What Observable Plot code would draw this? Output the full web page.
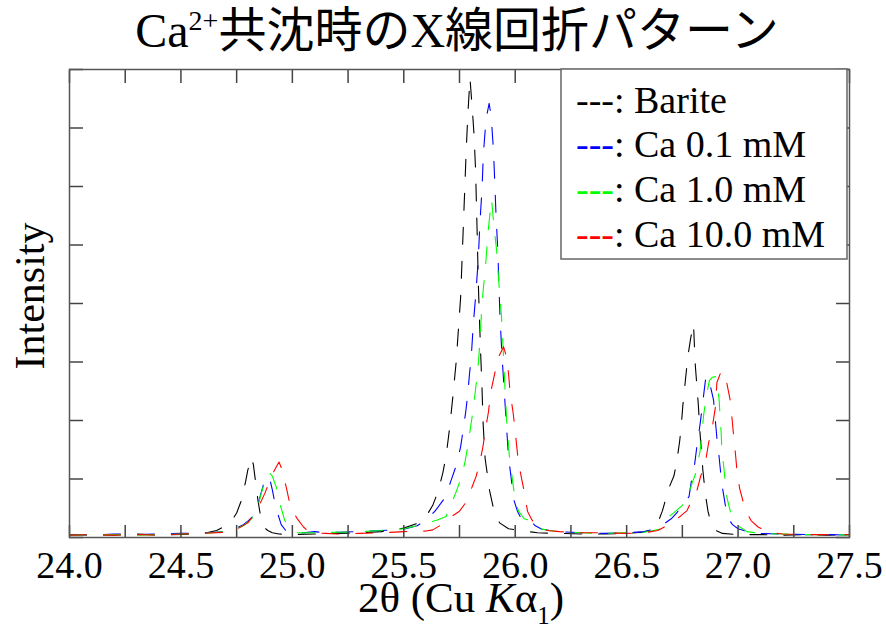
<!DOCTYPE html>
<html><head><meta charset="utf-8">
<script src="https://cdn.jsdelivr.net/npm/d3@7"></script>
<script src="https://cdn.jsdelivr.net/npm/@observablehq/plot@0.6"></script>
<style>
body{margin:0;background:#fff;}
svg{display:block;}
#chart svg text, #chart svg tspan {font-family: "Liberation Serif", "DejaVu Serif", serif;}
#chart svg tspan.cjk {font-family: "Noto Sans CJK JP", sans-serif;}
</style>
</head><body><div id="chart"></div>
<script>
// ---- data (2θ in degrees, intensity in arbitrary tick units) ----
const bariteX = [24.00,24.10,24.20,24.30,24.40,24.50,24.60,24.66,24.70,24.73,24.75,24.77,24.79,24.80,24.816,24.825,24.835,24.845,24.855,24.87,24.89,24.91,24.94,25.00,25.10,25.20,25.30,25.40,25.50,25.56,25.60,25.63,25.655,25.675,25.69,25.705,25.72,25.735,25.745,25.755,25.762,25.768,25.774,25.78,25.787,25.797,25.806,25.815,25.822,25.826,25.830,25.834,25.839,25.845,25.851,25.856,25.865,25.885,25.905,25.93,25.97,26.04,26.10,26.20,26.30,26.40,26.50,26.57,26.62,26.645,26.66,26.675,26.69,26.712,26.725,26.738,26.745,26.752,26.760,26.768,26.775,26.787,26.800,26.804,26.808,26.815,26.822,26.828,26.836,26.842,26.853,26.865,26.88,26.90,26.93,27.00,27.10,27.20,27.30,27.40,27.50];
const bariteY = [0.04,0.05,0.04,0.06,0.04,0.05,0.07,0.12,0.20,0.30,0.42,0.62,0.95,1.15,1.37,1.25,0.95,0.65,0.42,0.18,0.12,0.08,0.06,0.05,0.06,0.07,0.08,0.10,0.16,0.24,0.36,0.55,0.80,1.10,1.40,1.85,2.40,3.00,3.55,4.10,4.80,5.40,6.00,6.60,7.20,7.85,7.40,6.90,6.30,5.70,5.10,4.40,3.80,3.15,2.55,1.95,1.35,0.80,0.45,0.25,0.15,0.11,0.08,0.07,0.06,0.06,0.07,0.09,0.14,0.30,0.45,0.65,0.85,1.05,1.30,1.65,1.90,2.25,2.55,2.85,3.10,3.40,3.65,3.30,2.95,2.60,2.25,1.85,1.45,1.15,0.75,0.45,0.22,0.12,0.07,0.05,0.05,0.04,0.05,0.04,0.05];

const ca01X = [24.00,24.10,24.20,24.30,24.40,24.50,24.60,24.70,24.75,24.78,24.80,24.82,24.84,24.855,24.87,24.885,24.90,24.91,24.92,24.935,24.95,24.97,25.00,25.05,25.10,25.15,25.20,25.30,25.40,25.50,25.56,25.60,25.64,25.685,25.71,25.737,25.755,25.767,25.778,25.787,25.795,25.803,25.812,25.824,25.834,25.842,25.851,25.857,25.869,25.883,25.892,25.902,25.908,25.914,25.922,25.927,25.932,25.94,25.95,25.96,25.97,25.985,25.995,26.01,26.03,26.05,26.07,26.09,26.12,26.20,26.30,26.40,26.50,26.58,26.63,26.67,26.70,26.725,26.75,26.78,26.79,26.805,26.815,26.83,26.838,26.846,26.856,26.866,26.875,26.89,26.898,26.905,26.913,26.92,26.93,26.943,26.96,26.975,27.00,27.04,27.10,27.20,27.30,27.40,27.50];
const ca01Y = [0.05,0.04,0.06,0.05,0.06,0.07,0.08,0.10,0.16,0.22,0.28,0.35,0.48,0.70,0.90,1.05,0.98,0.82,0.62,0.40,0.22,0.12,0.08,0.08,0.10,0.08,0.09,0.10,0.12,0.14,0.20,0.30,0.45,0.68,0.95,1.25,1.55,1.85,2.15,2.45,2.80,3.10,3.65,4.20,4.75,5.40,5.95,6.55,7.15,7.42,7.20,6.65,6.10,5.50,4.90,4.30,3.75,3.15,2.55,1.95,1.38,0.92,0.63,0.45,0.30,0.30,0.28,0.20,0.14,0.10,0.08,0.07,0.08,0.10,0.15,0.24,0.32,0.42,0.55,0.70,0.95,1.25,1.55,1.95,2.20,2.45,2.76,2.70,2.60,2.35,2.00,1.70,1.45,1.18,0.85,0.55,0.30,0.22,0.15,0.10,0.07,0.06,0.05,0.05,0.04];

const ca10X = [24.00,24.10,24.20,24.30,24.40,24.50,24.60,24.70,24.75,24.78,24.80,24.82,24.84,24.86,24.88,24.895,24.91,24.928,24.944,24.966,24.99,25.02,25.10,25.20,25.30,25.40,25.50,25.58,25.65,25.69,25.707,25.735,25.76,25.775,25.79,25.80,25.812,25.821,25.830,25.836,25.842,25.850,25.858,25.865,25.872,25.879,25.887,25.894,25.905,25.917,25.927,25.939,25.947,25.954,25.962,25.974,25.99,26.00,26.015,26.04,26.06,26.08,26.10,26.15,26.20,26.30,26.40,26.50,26.58,26.62,26.645,26.665,26.68,26.72,26.75,26.77,26.793,26.81,26.818,26.83,26.838,26.845,26.857,26.871,26.885,26.898,26.91,26.916,26.92,26.924,26.928,26.936,26.943,26.95,26.965,26.98,27.00,27.04,27.10,27.20,27.30,27.40,27.50];
const ca10Y = [0.04,0.05,0.05,0.04,0.05,0.06,0.07,0.10,0.15,0.20,0.26,0.33,0.46,0.75,1.00,1.12,1.05,0.86,0.58,0.29,0.14,0.08,0.08,0.09,0.10,0.12,0.15,0.22,0.30,0.36,0.52,0.78,1.05,1.30,1.62,1.90,2.20,2.50,2.80,3.05,3.37,3.95,4.30,4.56,4.90,5.25,5.55,5.78,5.30,4.90,4.33,3.74,3.15,2.55,1.98,1.38,0.92,0.63,0.45,0.32,0.30,0.26,0.16,0.12,0.10,0.08,0.07,0.08,0.09,0.12,0.14,0.22,0.32,0.45,0.55,0.65,0.92,1.10,1.25,1.49,1.80,2.08,2.40,2.68,2.74,2.75,2.55,2.30,2.00,1.80,1.45,1.20,0.94,0.68,0.45,0.32,0.20,0.10,0.07,0.06,0.05,0.05,0.04];

const ca100X = [24.00,24.10,24.20,24.30,24.40,24.50,24.60,24.70,24.755,24.80,24.84,24.876,24.91,24.94,24.955,24.976,24.99,25.02,25.05,25.08,25.15,25.20,25.30,25.40,25.50,25.60,25.63,25.67,25.707,25.75,25.775,25.79,25.805,25.825,25.842,25.855,25.869,25.88,25.890,25.905,25.924,25.948,25.962,25.970,25.977,25.99,25.999,26.007,26.014,26.03,26.044,26.055,26.075,26.10,26.142,26.20,26.30,26.40,26.50,26.58,26.64,26.68,26.703,26.74,26.771,26.79,26.813,26.831,26.845,26.857,26.868,26.887,26.898,26.905,26.92,26.928,26.94,26.950,26.965,26.973,26.98,26.988,26.995,27.007,27.025,27.04,27.058,27.09,27.137,27.20,27.30,27.40,27.50];
const ca100Y = [0.04,0.05,0.04,0.05,0.04,0.06,0.07,0.09,0.15,0.25,0.46,0.75,1.08,1.29,1.15,0.80,0.55,0.33,0.18,0.08,0.07,0.06,0.07,0.08,0.10,0.11,0.13,0.22,0.34,0.45,0.58,0.72,0.85,1.05,1.30,1.55,1.90,2.15,2.48,2.75,3.08,3.26,3.07,2.80,2.48,2.15,1.86,1.55,1.30,0.98,0.72,0.45,0.30,0.20,0.12,0.10,0.08,0.08,0.07,0.08,0.12,0.20,0.26,0.36,0.46,0.62,0.77,1.03,1.20,1.37,1.62,1.95,2.22,2.65,2.80,2.85,2.75,2.63,2.34,2.03,1.74,1.44,1.15,0.84,0.58,0.42,0.29,0.18,0.09,0.06,0.05,0.05,0.05];

const seriesNames = ["Barite", "Ca 0.1 mM", "Ca 1.0 mM", "Ca 10.0 mM"];
const seriesColors = ["#000000", "#0000ff", "#00ff00", "#ff0000"];
const seriesXs = [bariteX, ca01X, ca10X, ca100X];
const seriesYs = [bariteY, ca01Y, ca10Y, ca100Y];

const xMinorTicks = d3.range(0, 15).map(i => 24 + i * 0.25);
const xLabelTicks = [24.0, 24.5, 25.0, 25.5, 26.0, 26.5, 27.0, 27.5];
const yTicks = [0, 1, 2, 3, 4, 5, 6, 7, 8];

// ---- build table ----
const rows = [];
seriesNames.forEach((name, s) => {
  seriesXs[s].forEach((x, i) => rows.push({series: name, x, y: seriesYs[s][i]}));
});

const serif = "Liberation Serif, DejaVu Serif, serif";
const tickStroke = "#444";

const svg = Plot.plot({
  width: 886, height: 629,
  marginTop: 69, marginBottom: 92, marginLeft: 69, marginRight: 37,
  x: {domain: [24, 27.5]},
  y: {domain: [0, 8]},
  style: {fontFamily: serif, background: "#fff", color: "#000"},
  marks: [
    ...seriesNames.map((name, s) => Plot.line(rows.filter(r => r.series === name), {
      x: "x", y: "y", stroke: seriesColors[s], strokeWidth: 1.1,
      strokeDasharray: "17,17"
    })),
    Plot.axisY(yTicks, {anchor: "left", tickSize: -14, fill: "none", label: null, stroke: tickStroke, strokeWidth: 1.5}),
    Plot.axisY(yTicks, {anchor: "right", tickSize: -14, fill: "none", label: null, stroke: tickStroke, strokeWidth: 1.5}),
    Plot.axisX(xMinorTicks, {anchor: "top", tickSize: -13, fill: "none", label: null, stroke: tickStroke, strokeWidth: 1.5}),
    Plot.axisX(xMinorTicks, {anchor: "bottom", tickSize: -12, fill: "none", label: null, stroke: tickStroke, strokeWidth: 1.5}),
    Plot.axisX(xLabelTicks, {anchor: "bottom", tickSize: 0, tickPadding: 14, tickFormat: d3.format(".1f"), label: null, fontSize: 38, fill: "#000"}),
    Plot.frame({stroke: "#555", strokeWidth: 1.5})
  ]
});
document.getElementById("chart").appendChild(svg);

const root = d3.select(svg);
// title
const title = root.append("text")
  .attr("x", 457).attr("y", 47).attr("text-anchor", "middle")
  .style("font-size", "48px").attr("fill", "#000");
title.append("tspan").text("Ca");
title.append("tspan").style("font-size", "28px").attr("dy", -17).text("2+");
title.append("tspan").attr("class", "cjk").attr("dy", 17).text("共沈時の");
title.append("tspan").text("X");
title.append("tspan").attr("class", "cjk").text("線回折パターン");

// y label
root.append("text")
  .attr("transform", "translate(44,296) rotate(-90)")
  .attr("text-anchor", "middle").style("font-size", "42px").attr("fill", "#000")
  .text("Intensity");

// x label
const xl = root.append("text")
  .attr("x", 461).attr("y", 612).attr("text-anchor", "middle")
  .style("font-size", "43px").attr("fill", "#000");
xl.append("tspan").text("2θ (Cu ");
xl.append("tspan").style("font-style", "italic").text("K");
xl.append("tspan").text("α");
xl.append("tspan").style("font-size", "25px").attr("dy", 12).text("1");
xl.append("tspan").attr("dy", -12).text(")");

// legend
const lg = root.append("g");
lg.append("rect").attr("x", 561).attr("y", 69).attr("width", 286).attr("height", 190)
  .attr("fill", "#fff").attr("stroke", "#666").attr("stroke-width", 1.5);
seriesNames.forEach((name, s) => {
  const t = lg.append("text").attr("x", 576).attr("y", 112.7 + s * 44.7)
    .attr("text-anchor", "start").style("font-size", "38px").attr("fill", "#000");
  t.append("tspan").attr("fill", seriesColors[s]).text("---");
  t.append("tspan").text(": " + name);
});
</script>
</body></html>
